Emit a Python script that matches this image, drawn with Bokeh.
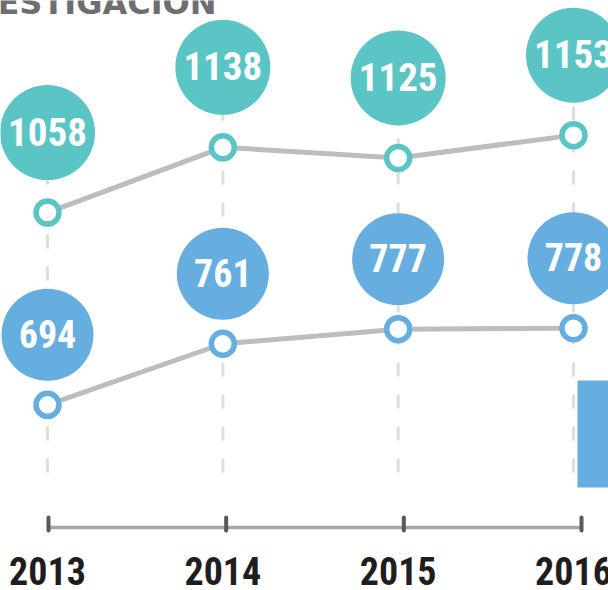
from bokeh.plotting import figure
from bokeh.models import Range1d, BoxAnnotation
from bokeh.core.properties import value
from bokeh.embed import file_html
from bokeh.resources import INLINE

# ---------------- data ----------------
years = [2013, 2014, 2015, 2016]
year_labels = ["2013", "2014", "2015", "2016"]
teal_values = [1058, 1138, 1125, 1153]
blue_values = [694, 761, 777, 778]
title_text = "ESTIGACION"

# ---------------- layout constants ----------------
OFF = 0  # canvas offset on the picture
W, H = 608 - OFF, 590 - OFF

X_PX0, X_PX_PER = 47.0, 175.33          # year -> screen x
T_REF_V, T_REF_PX, T_SCALE = 1118.5, 162.75, 0.815   # teal value -> screen y
B_REF_V, B_REF_PX, B_SCALE = 752.5, 351.0, 0.912     # blue value -> screen y
AX_PX0, AX_PX_PER = 48.0, 177.67        # axis ticks

TEAL = "#5bc5c5"
BLUE = "#66aee0"
LINE_GRAY = "#bcbdc1"
DASH_GRAY = "#dedede"
NUM_FONT = "Roboto Condensed, Roboto, sans-serif"


def xd(px):
    return 2013 + (px - X_PX0) / X_PX_PER


def td(py):
    return T_REF_V + (T_REF_PX - py) / T_SCALE


def bd(py):
    return B_REF_V + (B_REF_PX - py) / B_SCALE


def axd(px):
    return 2013 + (px - AX_PX0) / AX_PX_PER


p = figure(width=W, height=H, output_backend="svg", toolbar_location=None,
           x_range=Range1d(xd(OFF), xd(OFF + W)),
           y_range=Range1d(td(OFF + H), td(OFF)),
           x_axis_location=None, y_axis_location=None,
           min_border=0, outline_line_color=None,
           background_fill_color="white", border_fill_color="white")
p.extra_y_ranges = {"blue": Range1d(bd(OFF + H), bd(OFF))}
p.extra_x_ranges = {"axis": Range1d(axd(OFF), axd(OFF + W))}
p.grid.visible = False

teal_bubble_y = [v + 80 / T_SCALE for v in teal_values]
blue_bubble_y = [v + 70 / B_SCALE for v in blue_values]

# dashed guides (drawn from bottom upward)
p.segment(x0=years, y0=[td(472)] * 4, x1=years, y1=teal_bubble_y,
          line_color=DASH_GRAY, line_width=3, line_dash="14 18")

# decoration block at right edge
p.add_layout(BoxAnnotation(left=xd(577), right=xd(OFF + W + 5), top=td(380), bottom=td(487),
                           fill_color=BLUE, fill_alpha=1, line_color=None))

# lines
p.line(years, teal_values, line_color=LINE_GRAY, line_width=5)
p.line(years, blue_values, line_color=LINE_GRAY, line_width=5, y_range_name="blue")

# markers
p.scatter(years, teal_values, size=23, fill_color="white", line_color=TEAL, line_width=5.5)
p.scatter(years, blue_values, size=23, fill_color="white", line_color=BLUE, line_width=5.5,
          y_range_name="blue")

# bubbles
p.scatter(years, teal_bubble_y, size=95, fill_color=TEAL, line_color=None)
p.scatter(years, blue_bubble_y, size=92, fill_color=BLUE, line_color=None, y_range_name="blue")

p.text(years, teal_bubble_y, text=[str(v) for v in teal_values], y_offset=-1,
       text_font=value(NUM_FONT), text_font_style="bold", text_font_size="39px",
       text_color="white", text_align="center", text_baseline="middle")
p.text(years, blue_bubble_y, text=[str(v) for v in blue_values], y_offset=-1,
       text_font=value(NUM_FONT), text_font_style="bold", text_font_size="38px",
       text_color="white", text_align="center", text_baseline="middle", y_range_name="blue")

# bottom axis
p.segment(x0=[years[0]], y0=[td(527)], x1=[years[-1]], y1=[td(527)],
          line_color="#a5a6a9", line_width=3.5, x_range_name="axis")
p.segment(x0=years, y0=[td(517)] * 4, x1=years, y1=[td(530)] * 4,
          line_color="#58595b", line_width=4, line_cap="round", x_range_name="axis")

p.text(years, [td(571)] * 4, text=year_labels, y_offset=-1,
       text_font=value(NUM_FONT), text_font_style="bold", text_font_size="38px",
       text_color="#1f1d1e", text_align="center", text_baseline="middle")

# cropped title
p.text([xd(-3)], [td(2)], text=[title_text],
       text_font=value("DejaVu Sans"), text_font_style="bold", text_font_size="32px",
       text_color="#6d6e71", text_align="left", text_baseline="middle")

open("out.html", "w").write(file_html(p, INLINE))
